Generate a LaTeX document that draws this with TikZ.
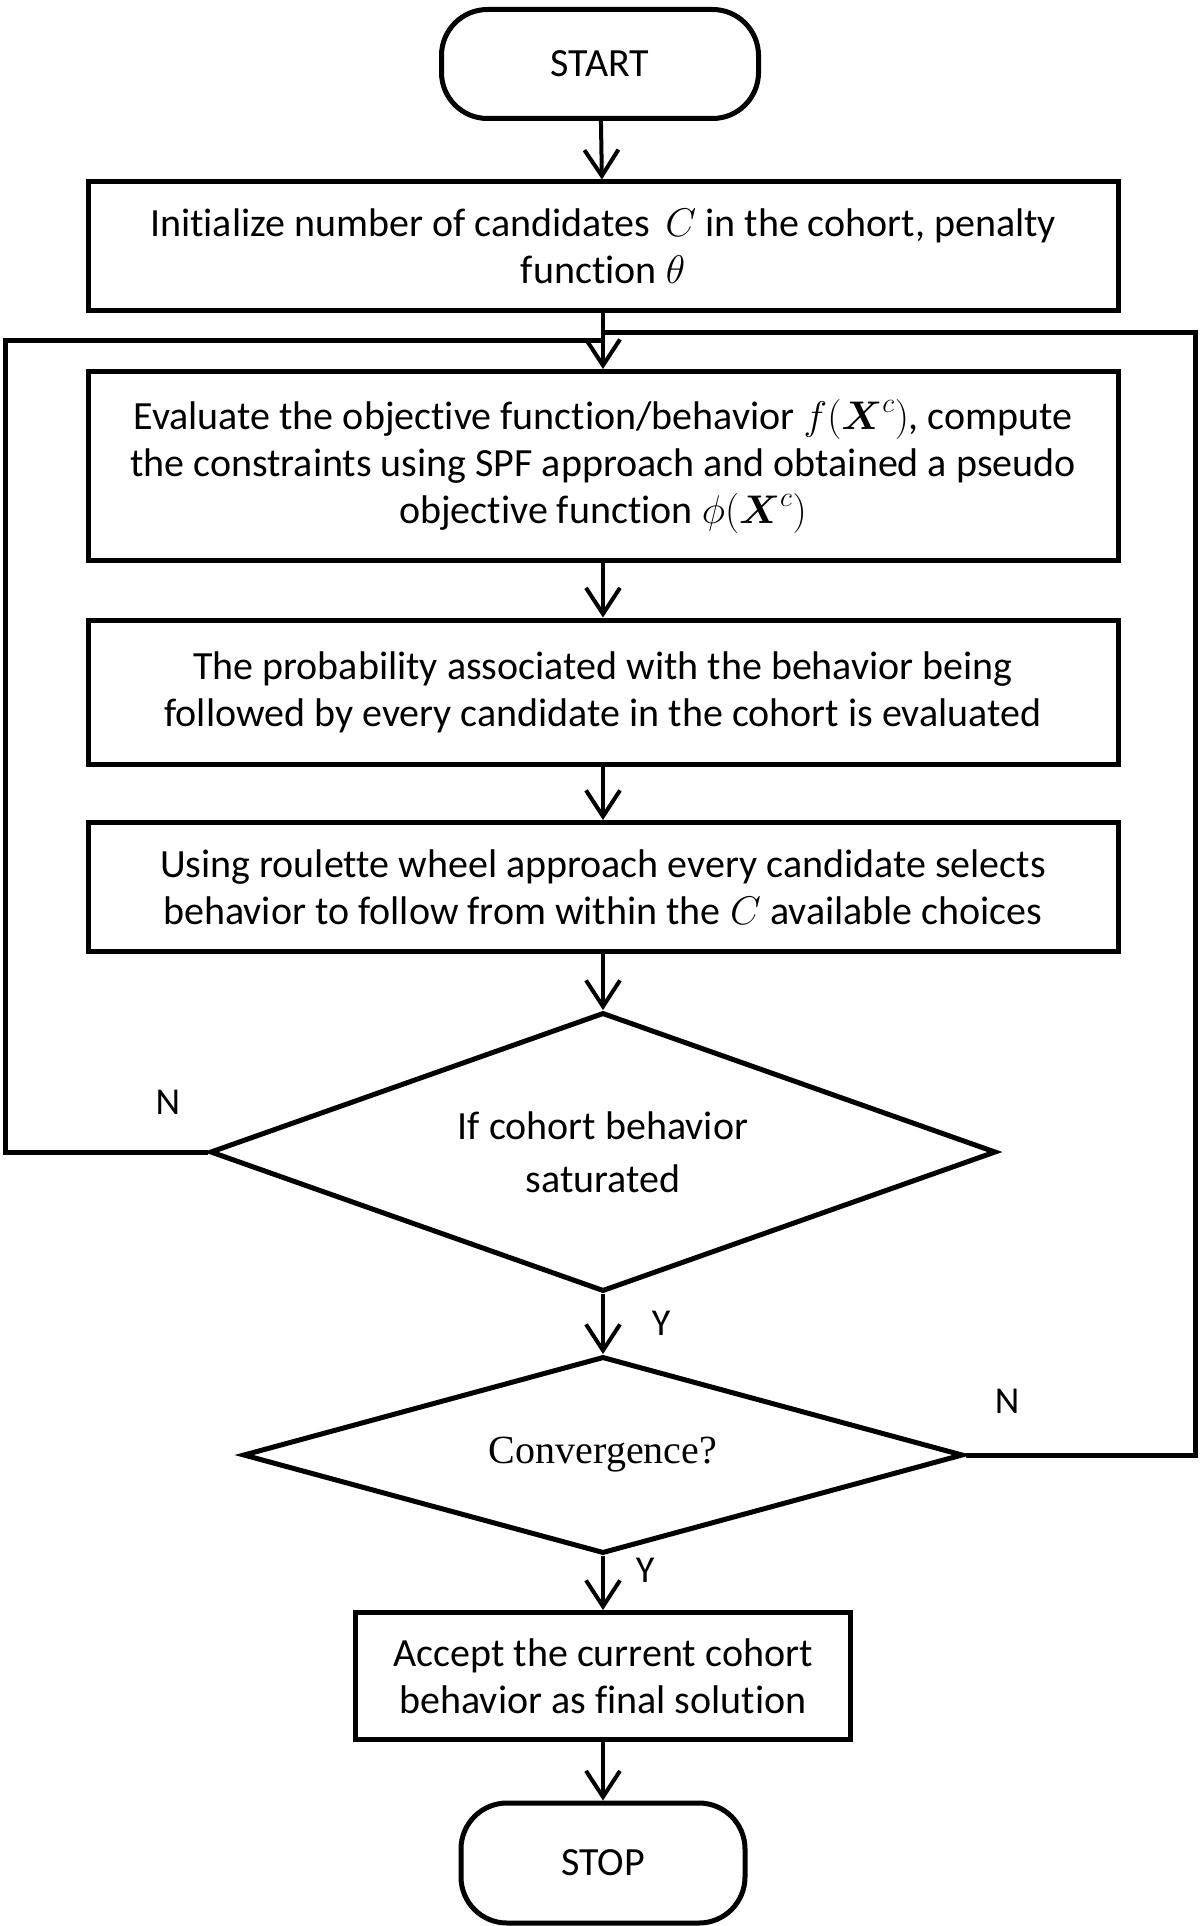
\RequirePackage{fix-cm}
\documentclass[tikz,border=0pt]{standalone}
\usepackage{amsmath}
\usepackage{fontspec}
\setmainfont{Carlito}[Ligatures=NoCommon]
\newfontfamily\timesfont{Liberation Serif}
\usetikzlibrary{shapes.geometric,arrows.meta}
\begin{document}
\begin{tikzpicture}[x=1pt,y=-1pt,
  every node/.style={font=\fontsize{40}{47}\selectfont},
  procbox/.style={draw,line width=5pt,rectangle,align=center,inner sep=0pt},
  termbox/.style={draw,line width=5pt,rectangle,rounded corners=46pt,align=center,inner sep=0pt},
  decbox/.style={draw,line width=5pt,diamond,align=center,inner sep=0pt},
  flow/.style={line width=4pt,-{Straight Barb[length=26pt,width=34pt]}},
  loopline/.style={line width=5pt},
  lbl/.style={font=\fontsize{38}{44}\selectfont}
]
\useasboundingbox (0,0) rectangle (1200,1926);
\node[termbox,minimum width=317pt,minimum height=109pt] (start) at (600,64) {START};
\node[procbox,minimum width=1030pt,minimum height=128pt] (init) at (603,246)
  {Initialize number of candidates\, $C$ in the cohort, penalty\\ function $\theta$};
\node[procbox,minimum width=1030pt,minimum height=189pt] (eval) at (603,466)
  {Evaluate the objective function/behavior $f(\boldsymbol{X}^c)$, compute\\ the constraints using SPF approach and obtained a pseudo\\ objective function $\phi(\boldsymbol{X}^c)$};
\node[procbox,minimum width=1030pt,minimum height=144pt] (prob) at (603,692)
  {The probability associated with the behavior being\\ followed by every candidate in the cohort is evaluated};
\node[procbox,minimum width=1030pt,minimum height=129pt] (roul) at (603,887)
  {Using roulette wheel approach every candidate selects\\ behavior to follow from within the $C$ available choices};
\node[decbox,shape aspect=2.82,minimum width=786pt,minimum height=279pt,font=\fontsize{40}{53}\selectfont] (dec1) at (603,1152)
  {If cohort behavior\\ saturated};
\node[decbox,shape aspect=3.65,minimum width=720pt,minimum height=197pt,font=\timesfont\fontsize{40}{46}\selectfont] (dec2) at (603,1455)
  {Convergence?};
\node[procbox,minimum width=495pt,minimum height=127pt] (acc) at (603,1676)
  {Accept the current cohort\\ behavior as final solution};
\node[termbox,minimum width=284pt,minimum height=120pt] (stop) at (603,1863) {STOP};

\draw[flow] (start) -- (init);
\draw[flow] (init) -- (eval);
\draw[flow] (eval) -- (prob);
\draw[flow] (prob) -- (roul);
\draw[flow] (roul) -- (dec1);
\draw[flow] (dec1) -- (dec2);
\draw[flow] (dec2) -- (acc);
\draw[flow] (acc) -- (stop);

\coordinate (ltop) at (5,340);
\coordinate (rtop) at (1195,332);
\draw[loopline] (dec1.west) -| (ltop) -- (ltop -| eval.north);
\draw[loopline] (dec2.east) -| (rtop) -- (rtop -| eval.north);

\node[lbl] (n1) at (168,1102) {N};
\node[lbl] (y1) at (661,1323) {Y};
\node[lbl] (n2) at (1007,1401) {N};
\node[lbl] (y2) at (645,1570) {Y};
\end{tikzpicture}
\end{document}
